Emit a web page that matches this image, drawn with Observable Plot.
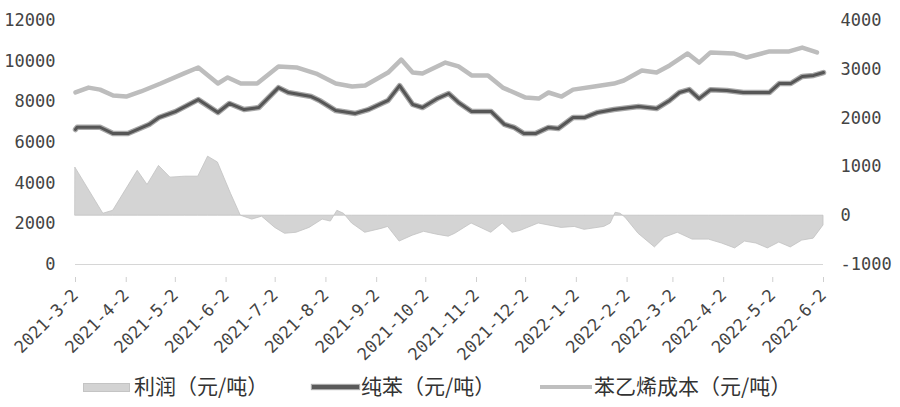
<!DOCTYPE html>
<html>
<head>
<meta charset="utf-8">
<script src="https://cdn.jsdelivr.net/npm/d3@7"></script>
<script src="https://cdn.jsdelivr.net/npm/@observablehq/plot@0.6"></script>
<style>
  html, body { margin: 0; padding: 0; background: #fff; }
  #wrap { position: relative; width: 900px; height: 407px; overflow: hidden; }
  #legend { position: absolute; left: 0; top: 372px; width: 900px; height: 35px;
    font-family: "Noto Sans CJK SC", sans-serif; font-size: 21px; color: #333; }
  .sw { position: absolute; }
  .lt { position: absolute; top: 1px; line-height: 24px; white-space: nowrap; }
</style>
</head>
<body>
<div id="wrap">
  <div id="chart"></div>
  <div id="legend">
    <div class="sw" style="left:83px;top:11px;width:47px;height:9px;background:#d3d3d3;border:1px solid #c4c4c4;box-sizing:border-box;"></div>
    <div class="lt" style="left:134px;">利润（元/吨）</div>
    <div class="sw" style="left:312px;top:13px;width:47px;height:4px;background:#5a5a5a;box-shadow:0 0 1px 1px #aaa;"></div>
    <div class="lt" style="left:361px;">纯苯（元/吨）</div>
    <div class="sw" style="left:540px;top:13px;width:52px;height:4px;background:#bfbfbf;"></div>
    <div class="lt" style="left:594px;">苯乙烯成本（元/吨）</div>
  </div>
</div>
<script>
// ---- Data ----
const benzeneDates = ["2021-03-02","2021-03-03","2021-03-17","2021-03-25","2021-04-03","2021-04-16","2021-04-22","2021-05-02","2021-05-16","2021-05-28","2021-06-04","2021-06-13","2021-06-22","2021-07-04","2021-07-10","2021-07-24","2021-07-29","2021-08-08","2021-08-20","2021-08-28","2021-09-09","2021-09-16","2021-09-24","2021-09-30","2021-10-09","2021-10-16","2021-10-22","2021-10-30","2021-11-11","2021-11-19","2021-11-25","2021-12-01","2021-12-08","2021-12-16","2021-12-22","2021-12-31","2022-01-07","2022-01-15","2022-01-25","2022-02-09","2022-02-20","2022-02-28","2022-03-06","2022-03-12","2022-03-18","2022-03-25","2022-04-04","2022-04-14","2022-04-30","2022-05-06","2022-05-13","2022-05-20","2022-05-27","2022-06-02"];
const benzeneValues = [6640,6750,6750,6440,6440,6890,7230,7520,8110,7475,7920,7620,7720,8700,8460,8260,8070,7570,7430,7620,8070,8800,7870,7720,8160,8410,7970,7520,7520,6890,6740,6440,6440,6740,6690,7230,7230,7480,7620,7770,7670,8070,8460,8600,8160,8600,8560,8460,8460,8900,8900,9250,9300,9440];

const costDates = ["2021-03-02","2021-03-10","2021-03-17","2021-03-25","2021-04-02","2021-04-11","2021-04-23","2021-05-07","2021-05-16","2021-05-28","2021-06-03","2021-06-11","2021-06-21","2021-07-04","2021-07-15","2021-07-27","2021-08-08","2021-08-18","2021-08-26","2021-09-09","2021-09-17","2021-09-24","2021-09-30","2021-10-14","2021-10-22","2021-10-30","2021-11-09","2021-11-18","2021-12-02","2021-12-10","2021-12-16","2021-12-24","2021-12-31","2022-01-13","2022-01-25","2022-01-31","2022-02-11","2022-02-20","2022-02-28","2022-03-11","2022-03-18","2022-03-25","2022-04-08","2022-04-16","2022-04-30","2022-05-12","2022-05-20","2022-05-29"];
const costValues = [8460,8700,8600,8310,8260,8510,8900,9390,9690,8900,9200,8900,8900,9740,9690,9390,8900,8750,8800,9440,10080,9440,9390,9930,9740,9300,9300,8700,8210,8160,8460,8260,8600,8750,8900,9050,9540,9440,9790,10380,9930,10430,10380,10180,10480,10480,10670,10430];

const profitDates = ["2021-03-02","2021-03-19","2021-03-25","2021-04-09","2021-04-15","2021-04-22","2021-04-29","2021-05-08","2021-05-16","2021-05-22","2021-05-28","2021-06-05","2021-06-11","2021-06-18","2021-06-24","2021-07-02","2021-07-08","2021-07-15","2021-07-23","2021-07-31","2021-08-05","2021-08-09","2021-08-13","2021-08-18","2021-08-26","2021-09-05","2021-09-09","2021-09-16","2021-09-24","2021-10-01","2021-10-09","2021-10-16","2021-10-20","2021-10-30","2021-11-11","2021-11-18","2021-11-24","2021-11-29","2021-12-10","2021-12-24","2022-01-01","2022-01-07","2022-01-19","2022-01-23","2022-01-26","2022-01-29","2022-02-01","2022-02-09","2022-02-19","2022-02-25","2022-03-05","2022-03-14","2022-03-24","2022-04-01","2022-04-09","2022-04-15","2022-04-22","2022-04-29","2022-05-06","2022-05-13","2022-05-20","2022-05-27","2022-06-02"];
const profitValues = [980,40,100,920,630,1020,780,800,800,1210,1090,450,0,-80,-20,-250,-370,-350,-250,-80,-120,100,40,-160,-350,-270,-230,-530,-410,-330,-390,-430,-370,-160,-350,-160,-350,-310,-160,-250,-230,-290,-230,-160,60,40,-40,-370,-650,-450,-350,-490,-490,-570,-670,-530,-570,-670,-550,-650,-510,-470,-200];

const xTickLabels = ["2021-3-2","2021-4-2","2021-5-2","2021-6-2","2021-7-2","2021-8-2","2021-9-2","2021-10-2","2021-11-2","2021-12-2","2022-1-2","2022-2-2","2022-3-2","2022-4-2","2022-5-2","2022-6-2"];
const leftTicks = [0,2000,4000,6000,8000,10000,12000];
const rightTicks = [-1000,0,1000,2000,3000,4000];

// ---- Helpers ----
const parseDate = s => new Date(s + "T00:00:00Z");
const tickDateOf = lbl => { const [y,m,d] = lbl.split("-").map(Number); return new Date(Date.UTC(y, m - 1, d)); };
const fmtDate = d => `${d.getUTCFullYear()}-${d.getUTCMonth() + 1}-${d.getUTCDate()}`;

// right axis (-1000..4000) mapped onto left scale (0..12000)
const rMin = rightTicks[0], rMax = rightTicks[rightTicks.length - 1];
const lMax = leftTicks[leftTicks.length - 1];
const toLeft = v => (v - rMin) * lMax / (rMax - rMin);
const fromLeft = y => Math.round(y * (rMax - rMin) / lMax + rMin);

const benzene = benzeneDates.map((d, i) => ({date: parseDate(d), value: benzeneValues[i]}));
const cost = costDates.map((d, i) => ({date: parseDate(d), value: costValues[i]}));
const profit = profitDates.map((d, i) => ({date: parseDate(d), value: profitValues[i]}));
const xTicks = xTickLabels.map(tickDateOf);

const chart = Plot.plot({
  width: 900,
  height: 372,
  marginLeft: 75,
  marginRight: 77,
  marginTop: 20,
  marginBottom: 108,
  style: {fontFamily: "'DejaVu Sans Mono', monospace", fontSize: "17px", color: "#444", background: "#fff"},
  x: {type: "utc", domain: [xTicks[0], xTicks[xTicks.length - 1]]},
  y: {domain: [0, lMax]},
  marks: [
    Plot.areaY(profit, {x: "date", y1: () => toLeft(0), y2: d => toLeft(d.value), fill: "#d4d4d4", stroke: "#c2c2c2", strokeWidth: 0.8}),
    Plot.ruleY([0], {stroke: "#d6d6d6", strokeWidth: 1}),
    Plot.lineY(cost, {x: "date", y: "value", stroke: "#bdbdbd", strokeWidth: 4.5}),
    Plot.lineY(benzene, {x: "date", y: "value", stroke: "#a8a8a8", strokeWidth: 5.5}),
    Plot.lineY(benzene, {x: "date", y: "value", stroke: "#565656", strokeWidth: 3}),
    Plot.axisY(leftTicks, {anchor: "left", tickSize: 0, tickPadding: 20, tickFormat: d => String(d), fill: "#444", label: null}),
    Plot.axisY(rightTicks.map(toLeft), {anchor: "right", tickSize: 0, tickPadding: 17, tickFormat: y => String(fromLeft(y)), fill: "#444", label: null}),
    Plot.axisX(xTicks, {anchor: "bottom", tickSize: 5, stroke: "#cfcfcf", fill: "#444", tickRotate: -45, tickPadding: 10, dy: 13, tickFormat: fmtDate, label: null})
  ]
});
document.getElementById("chart").appendChild(chart);
</script>
</body>
</html>
